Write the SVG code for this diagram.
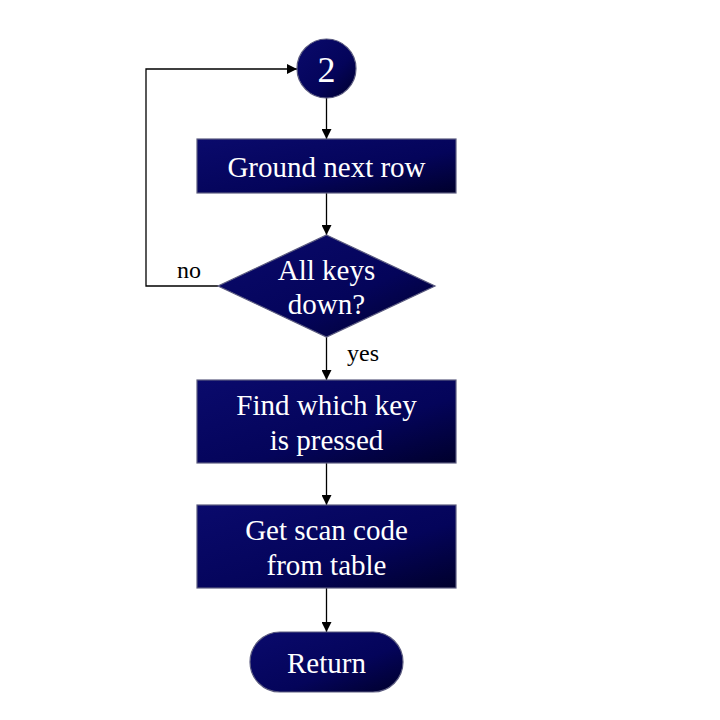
<svg xmlns="http://www.w3.org/2000/svg" width="720" height="720" viewBox="0 0 720 720">
<defs>
<linearGradient id="g" x1="0" y1="0" x2="1" y2="1">
<stop offset="0" stop-color="#0a0a6c"/>
<stop offset="0.6" stop-color="#04045a"/>
<stop offset="1" stop-color="#00002c"/>
</linearGradient>
<marker id="arr" viewBox="0 0 10 10" refX="10" refY="5" markerWidth="10" markerHeight="10" markerUnits="userSpaceOnUse" orient="auto">
<path d="M0,0 L10,5 L0,10 z" fill="#000"/>
</marker>
<style>
.n{fill:url(#g);stroke:#5c5c80;stroke-width:1.2}
.t{fill:#fff;font-family:"Liberation Serif","Times New Roman",serif;font-size:29px;text-anchor:middle}
.l{fill:#000;font-family:"Liberation Serif","Times New Roman",serif;font-size:24px}
.c{fill:none;stroke:#000;stroke-width:1.3}
</style>
</defs>
<rect width="720" height="720" fill="#fff"/>
<g id="connectors">
<line class="c" x1="326.5" y1="98" x2="326.5" y2="139" marker-end="url(#arr)"/>
<line class="c" x1="326.5" y1="193" x2="326.5" y2="235" marker-end="url(#arr)"/>
<line class="c" x1="326.5" y1="337" x2="326.5" y2="380" marker-end="url(#arr)"/>
<line class="c" x1="326.5" y1="463" x2="326.5" y2="505" marker-end="url(#arr)"/>
<line class="c" x1="326.5" y1="588" x2="326.5" y2="632" marker-end="url(#arr)"/>
<polyline class="c" points="218,286 146,286 146,69 297,69" marker-end="url(#arr)"/>
<text class="l" x="177" y="278">no</text>
<text class="l" x="347" y="361">yes</text>
</g>
<g id="node-2">
<circle class="n" cx="326.5" cy="68.5" r="29.5"/>
<text class="t" x="326.5" y="81.5" style="font-size:36px">2</text>
</g>
<g id="node-ground">
<rect class="n" x="197" y="139" width="259" height="54"/>
<text class="t" x="326.5" y="176.5">Ground next row</text>
</g>
<g id="node-allkeys">
<polygon class="n" points="326.5,235 435,286 326.5,337 218,286"/>
<text class="t" x="326.5" y="280">All keys</text>
<text class="t" x="326.5" y="314">down?</text>
</g>
<g id="node-find">
<rect class="n" x="197" y="380" width="259" height="83"/>
<text class="t" x="326.5" y="414.5">Find which key</text>
<text class="t" x="326.5" y="449.5">is pressed</text>
</g>
<g id="node-get">
<rect class="n" x="197" y="505" width="259" height="83"/>
<text class="t" x="326.5" y="540">Get scan code</text>
<text class="t" x="326.5" y="574.5">from table</text>
</g>
<g id="node-return">
<rect class="n" x="250" y="632" width="153" height="60" rx="30" ry="30"/>
<text class="t" x="326.5" y="673">Return</text>
</g>
</svg>
